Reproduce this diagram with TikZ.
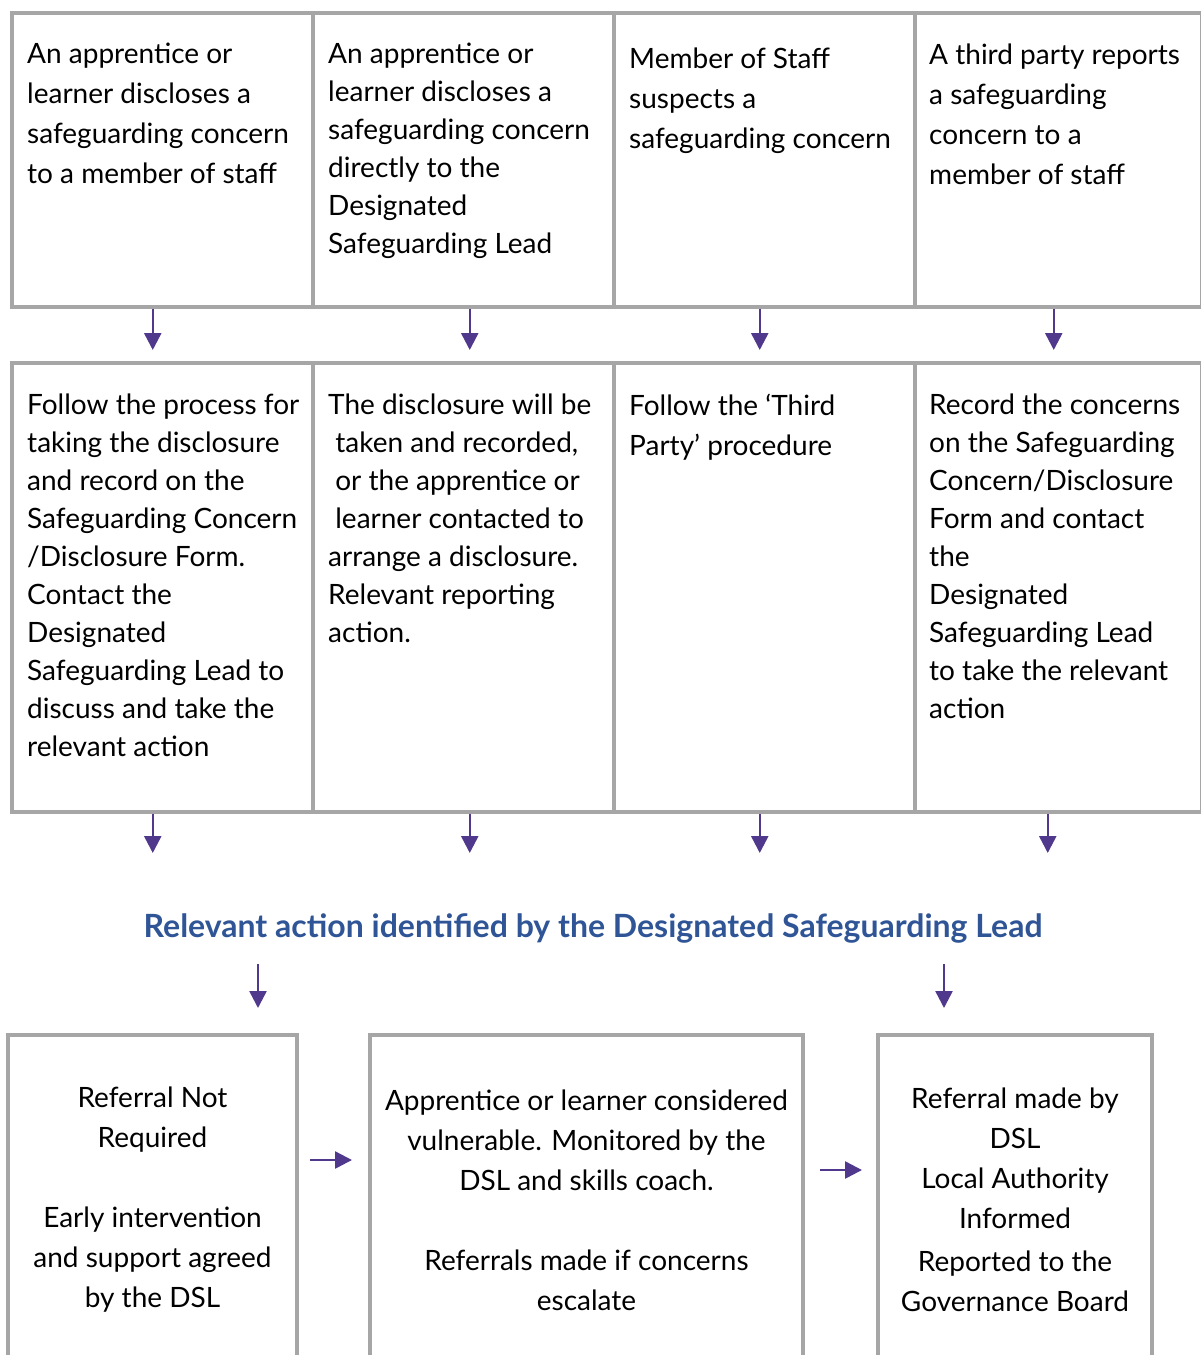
\documentclass[tikz,border=0pt]{standalone}
\usepackage{fontspec}
\setmainfont{Lato}
\usetikzlibrary{arrows.meta,calc}
\definecolor{gridgray}{RGB}{166,166,166}
\definecolor{flowpurple}{RGB}{80,57,140}
\definecolor{titleblue}{RGB}{47,85,151}

\tikzset{
  cell/.style={draw=gridgray, line width=3.5pt, inner sep=0pt, anchor=north west},
  celltext/.style={anchor=north west, inner sep=0pt, align=left, font=\fontsize{28}{40}\selectfont},
  celltextb/.style={celltext, font=\fontsize{28}{38}\selectfont},
  openbox/.style={inner sep=0pt, outer sep=0pt, anchor=north west, minimum height=330pt, align=center, font=\fontsize{28}{40}\selectfont},
  boxedge/.style={draw=gridgray, line width=3.5pt},
  flow/.style={draw=flowpurple, line width=2.5pt, -{Triangle[length=17pt,width=17pt]}},
  headline/.style={inner sep=0pt, text=titleblue, font=\fontsize{32}{36}\selectfont\bfseries}
}

\begin{document}
\begin{tikzpicture}[x=1pt,y=1pt,yscale=-1]
\useasboundingbox (0,0) rectangle (1201,1355);

% first row of cells
\node[cell, minimum width=301pt, minimum height=294pt] (a1) at (10,11) {};
\node[cell, minimum width=301pt, minimum height=294pt] (a2) at (311,11) {};
\node[cell, minimum width=301pt, minimum height=294pt] (a3) at (612,11) {};
\node[cell, minimum width=287pt, minimum height=294pt] (a4) at (913,11) {};

% second row of cells
\node[cell, minimum width=301pt, minimum height=449pt] (b1) at (10,361) {};
\node[cell, minimum width=301pt, minimum height=449pt] (b2) at (311,361) {};
\node[cell, minimum width=301pt, minimum height=449pt] (b3) at (612,361) {};
\node[cell, minimum width=287pt, minimum height=449pt] (b4) at (913,361) {};

% Text Node
\node[celltext] (a1t) at (27,43) {An apprentice or\\learner discloses a\\safeguarding concern\\to a member of staff};
\node[celltextb] (a2t) at (328,43) {An apprentice or\\learner discloses a\\safeguarding concern\\directly to the\\Designated\\Safeguarding Lead};
\node[celltext] (a3t) at (629,48) {Member of Staff\\suspects a\\safeguarding concern};
\node[celltext] (a4t) at (929,44) {A third party reports\\a safeguarding\\concern to a\\member of staff};

\node[celltextb] (b1t) at (27,394) {Follow the process for\\taking the disclosure\\and record on the\\Safeguarding Concern\\/Disclosure Form.\\Contact the\\Designated\\Safeguarding Lead to\\discuss and take the\\relevant action};
\node[celltextb] (b2t) at (328,394) {The disclosure will be\\\ taken and recorded,\\\ or the apprentice or\\\ learner contacted to\\arrange a disclosure.\\Relevant reporting\\action.};
\node[celltext] (b3t) at (629,394) {Follow the ‘Third\\Party’ procedure};
\node[celltextb] (b4t) at (929,394) {Record the concerns\\on the Safeguarding\\Concern/Disclosure\\Form and contact\\the\\Designated\\Safeguarding Lead\\to take the relevant\\action};

% arrows between the rows
\draw[flow, shorten >=11pt] ([xshift=-9.5pt]a1.south) -- ([xshift=-9.5pt]b1.north);
\draw[flow, shorten >=11pt] ([xshift=6.5pt]a2.south) -- ([xshift=6.5pt]b2.north);
\draw[flow, shorten >=11pt] ([xshift=-4.5pt]a3.south) -- ([xshift=-4.5pt]b3.north);
\draw[flow, shorten >=11pt] ([xshift=-4.5pt]a4.south) -- ([xshift=-4.5pt]b4.north);

\coordinate (lvl) at (0,853);
\draw[flow] ($(b1.south)+(-9.5,0)$) -- ($(b1.south |- lvl)+(-9.5,0)$);
\draw[flow] ($(b2.south)+(6.5,0)$) -- ($(b2.south |- lvl)+(6.5,0)$);
\draw[flow] ($(b3.south)+(-4.5,0)$) -- ($(b3.south |- lvl)+(-4.5,0)$);
\draw[flow] ($(b4.south)+(-10.5,0)$) -- ($(b4.south |- lvl)+(-10.5,0)$);

% Text Node
\node[headline] (act) at (593,928) {Relevant action identified by the Designated Safeguarding Lead};

\coordinate (d1) at (258,1008);
\coordinate (d2) at (944,1008);
\draw[flow, shorten <=21pt] (act.south -| d1) -- (d1);
\draw[flow, shorten <=21pt] (act.south -| d2) -- (d2);

% outcome boxes, open at the foot of the page
\coordinate (foot) at (0,1355);
\node[openbox, minimum width=289pt] (c1) at (8,1035) {Referral Not\\Required\\~\\Early intervention\\and support agreed\\by the DSL};
\node[openbox, minimum width=433pt] (c2) at (370,1035) {Apprentice or learner considered\\vulnerable. Monitored by the\\DSL and skills coach.\\~\\Referrals made if concerns\\escalate};
\node[openbox, minimum width=274pt] (c3) at (878,1035) {Referral made by\\DSL\\Local Authority\\Informed\\[3pt]Reported to the\\Governance Board};
\draw[boxedge] (c1.north west |- foot) |- (c1.north east) -- (c1.north east |- foot);
\draw[boxedge] (c2.north west |- foot) |- (c2.north east) -- (c2.north east |- foot);
\draw[boxedge] (c3.north west |- foot) |- (c3.north east) -- (c3.north east |- foot);

\draw[flow, shorten <=13pt, shorten >=18pt] ($(c1.east)+(0,-40)$) -- ($(c2.west)+(0,-40)$);
\draw[flow, shorten <=17pt, shorten >=16pt] ($(c2.east)+(0,-30)$) -- ($(c3.west)+(0,-30)$);
\end{tikzpicture}
\end{document}
